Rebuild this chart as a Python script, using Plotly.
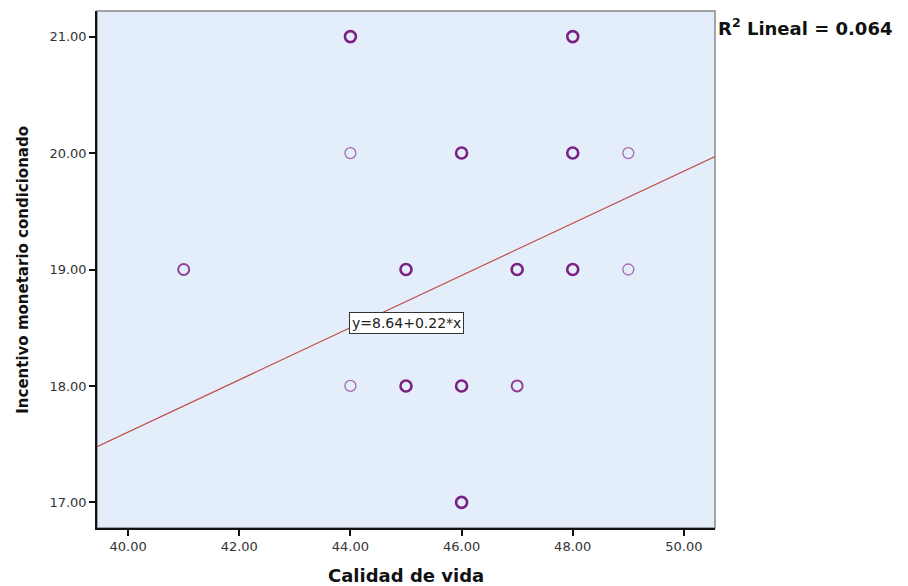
import plotly.graph_objects as go

# Data
calidad_vida = [41, 44, 44, 44, 45, 45, 46, 46, 46, 47, 47, 48, 48, 48, 49, 49]
incentivo = [19, 21, 20, 18, 19, 18, 20, 18, 17, 19, 18, 21, 20, 19, 20, 19]
overlap_count = [2, 3, 1, 1, 3, 3, 3, 3, 3, 3, 2, 3, 3, 3, 1, 1]
fit_intercept = 8.64
fit_slope = 0.2241
r2_lineal = 0.064
x_range = [39.44, 50.56]
y_range = [16.78, 21.22]
x_ticks = [40, 42, 44, 46, 48, 50]
y_ticks = [17, 18, 19, 20, 21]

color_map = {1: "#A669B0", 2: "#8E3F98", 3: "#7A2283"}
width_map = {1: 1.3, 2: 2.0, 3: 2.6}

fig = go.Figure()

fig.add_trace(go.Scatter(
    x=x_range,
    y=[fit_intercept + fit_slope * v for v in x_range],
    mode="lines",
    line=dict(color="#C0504D", width=1.2),
    hoverinfo="skip",
))

fig.add_trace(go.Scatter(
    x=calidad_vida, y=incentivo, mode="markers",
    marker=dict(
        symbol="circle-open", size=11,
        color=[color_map[c] for c in overlap_count],
        line=dict(width=[width_map[c] for c in overlap_count],
                  color=[color_map[c] for c in overlap_count]),
    ),
))

font_family = "DejaVu Sans, Liberation Sans, sans-serif"

fig.update_layout(
    width=900, height=578,
    margin=dict(l=89, r=193, t=3, b=58, autoexpand=False),
    paper_bgcolor="white",
    plot_bgcolor="#E3EEFA",
    showlegend=False,
    font=dict(family=font_family, size=13, color="#222222"),
    xaxis=dict(
        range=x_range, tickvals=x_ticks,
        ticktext=[f"{v:.2f}" for v in x_ticks],
        showgrid=False, zeroline=False,
        showline=True, linecolor="#111111", linewidth=1.5,
        ticks="outside", ticklen=6, tickcolor="#111111", tickwidth=1.5,
        tickfont=dict(size=13, color="#333333"),
    ),
    yaxis=dict(
        range=y_range, tickvals=y_ticks,
        ticktext=[f"{v:.2f}" for v in y_ticks],
        showgrid=False, zeroline=False,
        showline=True, linecolor="#111111", linewidth=1.5,
        ticks="outside", ticklen=6, tickcolor="#111111", tickwidth=1.5,
        tickfont=dict(size=13, color="#333333"),
    ),
    shapes=[dict(type="rect", xref="paper", yref="paper", x0=0, y0=0, x1=1, y1=1,
                 line=dict(color="#888888", width=1.5), layer="below")],
    annotations=[
        dict(x=45.0, y=18.54, xref="x", yref="y", text="y=8.64+0.22*x",
             showarrow=False, font=dict(size=14, color="#222222"),
             bgcolor="white", bordercolor="#333333", borderwidth=1, borderpad=2),
        dict(x=1.002, y=0.969, xref="paper", yref="paper", xanchor="left", yanchor="middle",
             text=f"<b>R<sup>2</sup> Lineal = {r2_lineal:.3f}</b>", showarrow=False,
             font=dict(size=18, color="#111111")),
        dict(x=0.5, y=-0.091, xref="paper", yref="paper", xanchor="center", yanchor="middle",
             text="<b>Calidad de vida</b>", showarrow=False,
             font=dict(size=18, color="#111111")),
        dict(x=-0.121, y=0.5, xref="paper", yref="paper", xanchor="center", yanchor="middle",
             text="<b>Incentivo monetario condicionado</b>", showarrow=False, textangle=-90,
             font=dict(size=15, color="#111111")),
    ],
)

fig.write_html("out.html")
